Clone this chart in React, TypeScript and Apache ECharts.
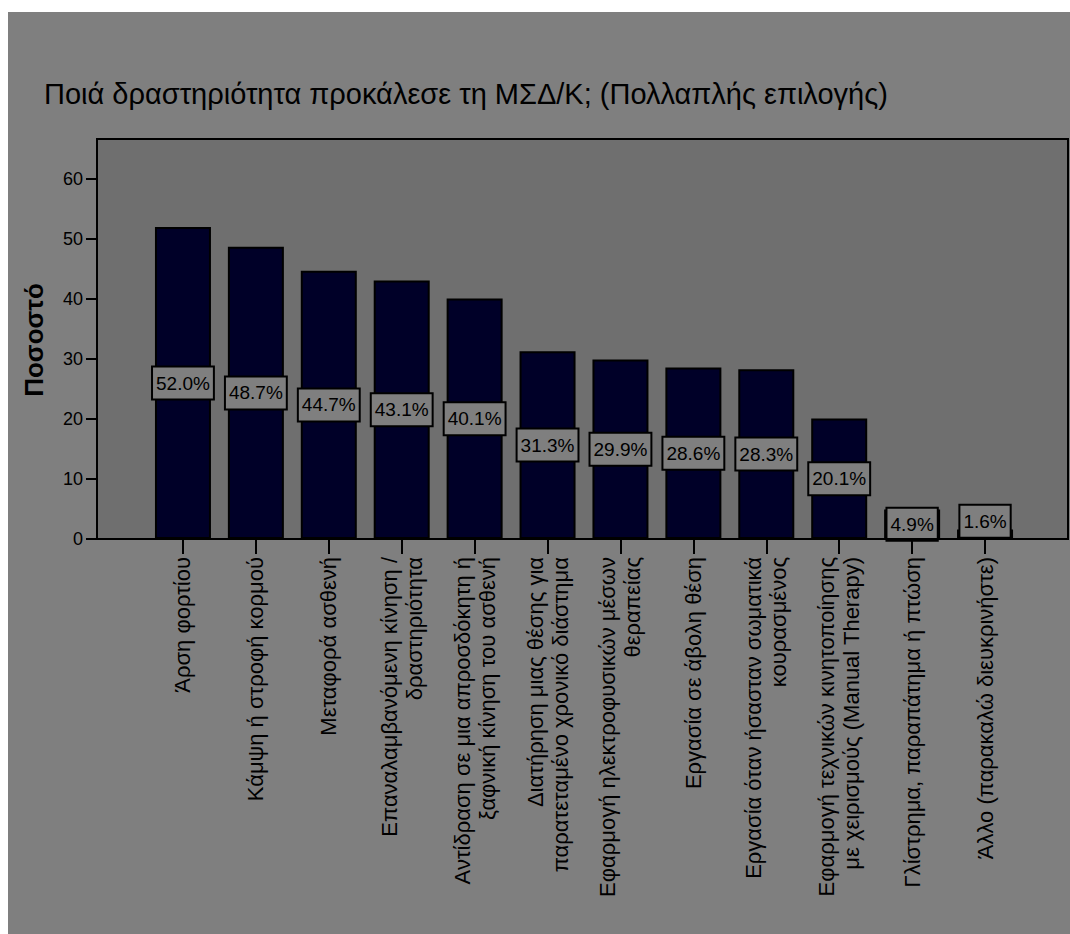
import React, { useEffect, useRef } from "react";
import * as echarts from "echarts";

const titleText = "Ποιά δραστηριότητα προκάλεσε τη ΜΣΔ/Κ; (Πολλαπλής επιλογής)";
const yAxisTitle = "Ποσοστό";

const categories = [
  "Άρση φορτίου",
  "Κάμψη ή στροφή κορμού",
  "Μεταφορά ασθενή",
  "Επαναλαμβανόμενη κίνηση /\nδραστηριότητα",
  "Αντίδραση σε μια απροσδόκητη ή\nξαφνική κίνηση του ασθενή",
  "Διατήρηση μιας θέσης για\nπαρατεταμένο χρονικό διάστημα",
  "Εφαρμογή ηλεκτροφυσικών μέσων\nθεραπείας",
  "Εργασία σε άβολη θέση",
  "Εργασία όταν ήσασταν σωματικά\nκουρασμένος",
  "Εφαρμογή τεχνικών κινητοποίησης\nμε χειρισμούς (Manual Therapy)",
  "Γλίστρημα, παραπάτημα ή πτώση",
  "Άλλο (παρακαλώ διευκρινήστε)",
];

const percentages = [52.0, 48.7, 44.7, 43.1, 40.1, 31.3, 29.9, 28.6, 28.3, 20.1, 4.9, 1.6];

const yTicks = { min: 0, max: 60, interval: 10 };

const FONT = "'Liberation Sans', Arial, sans-serif";

export default function App() {
  const ref = useRef<HTMLDivElement>(null);

  useEffect(() => {
    if (!ref.current) return;
    const chart = echarts.init(ref.current, null, { renderer: "svg" });
    const W = 1062;
    const H = 922;
    const frame = { x: 89, y: 127, w: 971, h: 400 };
    const gridLeft = 138.5;
    const gridRight = W - 1013.5;

    chart.setOption({
      animation: false,
      backgroundColor: "#7f7f7f",
      textStyle: { fontFamily: FONT },
      title: {
        text: titleText,
        left: 31,
        top: 62,
        textStyle: { fontFamily: FONT, fontSize: 29, fontWeight: "normal", color: "#000" },
      },
      graphic: [
        {
          type: "rect",
          z: -10,
          silent: true,
          shape: { x: frame.x, y: frame.y, width: frame.w, height: frame.h },
          style: { fill: "#6f6f6f" },
        },
        {
          type: "rect",
          z: 50,
          silent: true,
          shape: { x: frame.x, y: frame.y, width: frame.w, height: frame.h },
          style: { fill: "none", stroke: "#000", lineWidth: 2 },
        },
        {
          type: "text",
          x: 26,
          y: 328,
          rotation: Math.PI / 2,
          style: {
            text: yAxisTitle,
            fontFamily: FONT,
            fontSize: 26,
            fontWeight: "bold",
            fill: "#000",
            align: "center",
            verticalAlign: "middle",
          },
        },
      ],
      grid: {
        left: gridLeft,
        right: gridRight,
        top: 167,
        bottom: H - 527,
        containLabel: false,
      },
      xAxis: {
        type: "category",
        data: categories,
        axisLine: { show: false },
        axisTick: {
          show: true,
          alignWithLabel: true,
          length: 15,
          lineStyle: { color: "#000", width: 2 },
        },
        axisLabel: {
          interval: 0,
          rotate: 90,
          margin: 18,
          fontSize: 22,
          lineHeight: 25,
          color: "#000",
          fontFamily: FONT,
        },
      },
      yAxis: {
        type: "value",
        min: yTicks.min,
        max: yTicks.max,
        interval: yTicks.interval,
        offset: gridLeft - frame.x,
        axisLine: { show: true, lineStyle: { color: "#000", width: 2 } },
        axisTick: { show: true, length: 11, lineStyle: { color: "#000", width: 2 } },
        axisLabel: { fontSize: 18, color: "#000", margin: 14, fontFamily: FONT },
        splitLine: { show: false },
      },
      series: [
        {
          type: "bar",
          barWidth: 56,
          data: percentages.map((v) => ({
            value: v,
            label: v < 3 ? { offset: [0, -13] } : undefined,
          })),
          itemStyle: { color: "#000028", borderColor: "#000", borderWidth: 2 },
          label: {
            show: true,
            position: "inside",
            formatter: (p: any) => p.value.toFixed(1) + "%",
            fontFamily: FONT,
            fontSize: 19,
            lineHeight: 20,
            color: "#000",
            backgroundColor: "#7f7f7f",
            borderColor: "#000",
            borderWidth: 2,
            padding: [6, 3, 5, 3],
          },
        },
      ],
    });
    return () => chart.dispose();
  }, []);

  return (
    <div
      ref={ref}
      style={{ position: "absolute", left: 8, top: 12, width: 1062, height: 922 }}
    />
  );
}
